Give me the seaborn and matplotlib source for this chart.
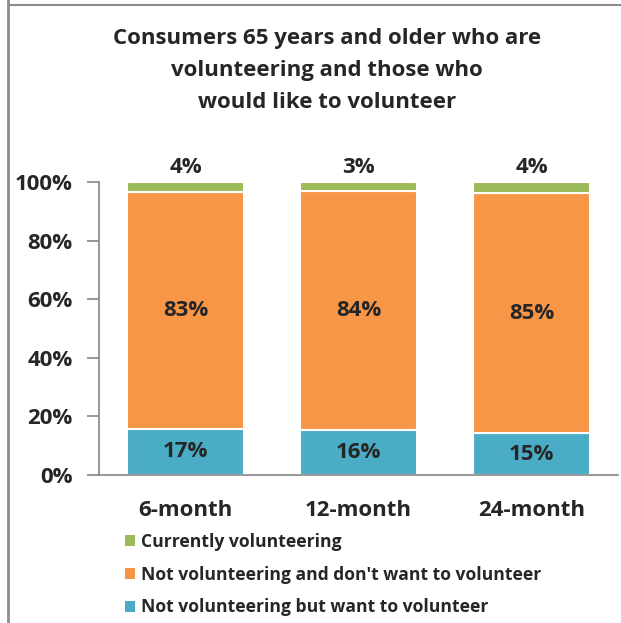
import seaborn as sns
import matplotlib.pyplot as plt
from matplotlib.lines import Line2D
from matplotlib.patches import Patch

# data
periods = ["6-month", "12-month", "24-month"]
want_share = [15.7, 15.2, 14.2]        # bar height, % of bar
dont_share = [81.0, 81.6, 82.1]
current_share = [3.3, 3.2, 3.7]
want_label = [17, 16, 15]              # printed labels
dont_label = [83, 84, 85]
current_label = [4, 3, 4]

series_names = ["Currently volunteering",
                "Not volunteering and don't want to volunteer",
                "Not volunteering but want to volunteer"]
green, orange, blue = "#9BBB59", "#F79646", "#4BACC6"

sns.set_style("white")
plt.rcParams["font.family"] = ["Open Sans", "DejaVu Sans"]
plt.rcParams["font.weight"] = "bold"

fig = plt.figure(figsize=(6.21, 6.23), dpi=100)
ax = fig.add_axes([99 / 621, 148 / 623, 519 / 621, 293 / 623])

bottom2 = [a + b for a, b in zip(want_share, dont_share)]
sns.barplot(x=periods, y=want_share, color=blue, width=0.68,
            edgecolor="white", linewidth=1.5, saturation=1, ax=ax)
sns.barplot(x=periods, y=dont_share, bottom=want_share, color=orange, width=0.68,
            edgecolor="white", linewidth=1.5, saturation=1, ax=ax)
sns.barplot(x=periods, y=current_share, bottom=bottom2, color=green, width=0.68,
            edgecolor="white", linewidth=1.5, saturation=1, ax=ax)

# data labels
for i in range(3):
    ax.text(i, want_share[i] / 2, f"{want_label[i]}%", ha="center", va="center",
            fontsize=16, fontweight="bold")
    ax.text(i, want_share[i] + dont_share[i] / 2, f"{dont_label[i]}%", ha="center",
            va="center", fontsize=16, fontweight="bold")
    ax.text(i, 101.2, f"{current_label[i]}%", ha="center", va="bottom",
            fontsize=16, fontweight="bold")

ax.set_xlim(-0.5, 2.5)
ax.set_ylim(0, 100)
ax.set_yticks([0, 20, 40, 60, 80, 100])
ax.set_yticklabels([f"{v}%" for v in range(0, 101, 20)], fontsize=16, fontweight="bold")
ax.set_xticks([0, 1, 2])
ax.set_xticklabels(periods, fontsize=16, fontweight="bold")
ax.set_xticks([-0.5, 0.5, 1.5, 2.5], minor=True)
ax.tick_params(axis="x", which="major", length=0, pad=18)
ax.tick_params(axis="x", which="minor", length=9, color="#868686", width=1.2)
ax.tick_params(axis="y", length=9, color="#868686", width=1.2, pad=10, left=True)
ax.set_xlabel("")
ax.set_ylabel("")
for s in ["top", "right"]:
    ax.spines[s].set_visible(False)
for s in ["left", "bottom"]:
    ax.spines[s].set_color("#868686")
    ax.spines[s].set_linewidth(1.2)

fig.text(327 / 621, 1 - 28 / 623,
         "Consumers 65 years and older who are\nvolunteering and those who\nwould like to volunteer",
         ha="center", va="top", fontsize=16, fontweight="bold", linespacing=1.68)

handles = [Patch(facecolor=c, edgecolor="none") for c in (green, orange, blue)]
fig.legend(handles, series_names, loc="upper left", bbox_to_anchor=(109 / 621, 1 - 517 / 623),
           frameon=False, fontsize=12.6, handlelength=0.6, handleheight=0.6,
           handletextpad=0.35, labelspacing=0.85)

# frame lines at the page edge
fig.add_artist(Line2D([8 / 621, 8 / 621], [0, 1], color="#8c8c8c", lw=2))
fig.add_artist(Line2D([8 / 621, 1], [1 - 5 / 623, 1 - 5 / 623], color="#8c8c8c", lw=1.5))

fig.savefig("out.png", dpi=100)
